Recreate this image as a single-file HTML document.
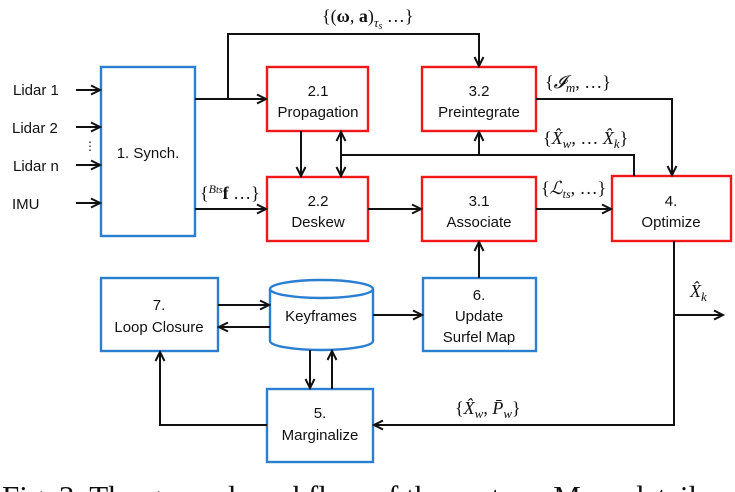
<!DOCTYPE html>
<html><head><meta charset="utf-8"><style>
html,body{margin:0;padding:0;background:#fff;overflow:hidden}
svg{display:block}
.t{font-family:"Liberation Sans",sans-serif;font-size:15px;fill:#111}
.m{font-family:"Liberation Serif",serif;font-size:18px;fill:#111}
.c{font-family:"Liberation Serif",serif;font-size:31px;fill:#111}
</style></head><body>
<svg width="735" height="492" viewBox="0 0 735 492" xmlns="http://www.w3.org/2000/svg">
<defs><marker id="a" markerWidth="12" markerHeight="12" refX="10" refY="6" orient="auto" markerUnits="userSpaceOnUse">
<path d="M1,1.5 L10,6 L1,10.5" fill="none" stroke="#111" stroke-width="2"/></marker></defs>
<g fill="#fff" stroke-width="2.4">
<rect x="101" y="67" width="94" height="169" stroke="#2a7fd0"/>
<rect x="267" y="67" width="101" height="64" stroke="#f01818"/>
<rect x="267" y="177" width="101" height="64" stroke="#f01818"/>
<rect x="422" y="67" width="114" height="64" stroke="#f01818"/>
<rect x="422" y="177" width="114" height="64" stroke="#f01818"/>
<rect x="612" y="176" width="119" height="65" stroke="#f01818"/>
<rect x="101" y="278" width="117" height="73" stroke="#2a7fd0"/>
<rect x="423" y="278" width="113" height="73" stroke="#2a7fd0"/>
<rect x="267" y="389" width="106" height="73" stroke="#2a7fd0"/>
<path d="M270,289 L270,341 A51.5,9 0 0 0 373,341 L373,289" stroke="#2a7fd0"/>
<ellipse cx="321.5" cy="289" rx="51.5" ry="9" stroke="#2a7fd0"/>
</g>
<g stroke="#111" stroke-width="2" fill="none">
<line x1="76" y1="90" x2="100" y2="90" marker-end="url(#a)"/>
<line x1="76" y1="127" x2="100" y2="127" marker-end="url(#a)"/>
<line x1="76" y1="165" x2="100" y2="165" marker-end="url(#a)"/>
<line x1="76" y1="203" x2="100" y2="203" marker-end="url(#a)"/>
<line x1="195" y1="99" x2="266" y2="99" marker-end="url(#a)"/>
<path d="M228,99 V34 H479 V66" marker-end="url(#a)"/>
<line x1="195" y1="209" x2="266" y2="209" marker-end="url(#a)"/>
<line x1="301" y1="131" x2="301" y2="176" marker-end="url(#a)"/>
<line x1="341" y1="155" x2="341" y2="176" marker-end="url(#a)"/>
<line x1="341" y1="155" x2="341" y2="132" marker-end="url(#a)"/>
<path d="M341,155 H634 V176"/>
<line x1="479" y1="155" x2="479" y2="132" marker-end="url(#a)"/>
<path d="M536,99 H672 V175" marker-end="url(#a)"/>
<line x1="368" y1="209" x2="421" y2="209" marker-end="url(#a)"/>
<line x1="536" y1="209" x2="611" y2="209" marker-end="url(#a)"/>
<line x1="479" y1="278" x2="479" y2="242" marker-end="url(#a)"/>
<path d="M674,241 V425 H374" marker-end="url(#a)"/>
<line x1="674" y1="315" x2="723" y2="315" marker-end="url(#a)"/>
<path d="M267,425 H160 V352" marker-end="url(#a)"/>
<line x1="218" y1="305" x2="269" y2="305" marker-end="url(#a)"/>
<line x1="270" y1="327" x2="219" y2="327" marker-end="url(#a)"/>
<line x1="373" y1="315" x2="422" y2="315" marker-end="url(#a)"/>
<line x1="310" y1="350" x2="310" y2="388" marker-end="url(#a)"/>
<line x1="332" y1="389" x2="332" y2="351" marker-end="url(#a)"/>
</g>
<g class="t">
<text x="13" y="95">Lidar 1</text>
<text x="12" y="133">Lidar 2</text>
<text x="13" y="171">Lidar n</text>
<text x="12" y="209">IMU</text>
<text x="84" y="150" font-size="12">⋮</text>
<g text-anchor="middle">
<text x="148" y="158">1. Synch.</text>
<text x="318" y="96">2.1</text><text x="318" y="117">Propagation</text>
<text x="318" y="206">2.2</text><text x="318" y="227">Deskew</text>
<text x="479" y="96">3.2</text><text x="479" y="117">Preintegrate</text>
<text x="479" y="206">3.1</text><text x="479" y="227">Associate</text>
<text x="671" y="206">4.</text><text x="671" y="227">Optimize</text>
<text x="159" y="310">7.</text><text x="159" y="332">Loop Closure</text>
<text x="321" y="321">Keyframes</text>
<text x="479" y="300">6.</text><text x="479" y="321">Update</text><text x="479" y="342">Surfel Map</text>
<text x="320" y="418">5.</text><text x="320" y="440">Marginalize</text>
</g></g>
<g class="m">
<text x="322" y="22">{(<tspan font-weight="bold">ω</tspan>, <tspan font-weight="bold">a</tspan>)<tspan font-style="italic" font-size="13" dy="5">τ</tspan><tspan font-style="italic" font-size="10" dy="2">s</tspan><tspan dy="-7"> …}</tspan></text>
<text x="200" y="199">{<tspan font-style="italic" font-size="12" dy="-6">B</tspan><tspan font-style="italic" font-size="10">ts</tspan><tspan dy="6" font-weight="bold">f</tspan> …}</text>
<text x="545" y="88">{<tspan font-style="italic">𝓘</tspan><tspan font-style="italic" font-size="13" dy="4">m</tspan><tspan dy="-4">, …}</tspan></text>
<text x="543" y="144">{<tspan font-style="italic">X̂</tspan><tspan font-style="italic" font-size="13" dy="4">w</tspan><tspan dy="-4">, … </tspan><tspan font-style="italic">X̂</tspan><tspan font-style="italic" font-size="13" dy="4">k</tspan><tspan dy="-4">}</tspan></text>
<text x="541" y="194">{<tspan font-style="italic">ℒ</tspan><tspan font-style="italic" font-size="12" dy="4">ts</tspan><tspan dy="-4">, …}</tspan></text>
<text x="690" y="297" font-style="italic">X̂<tspan font-size="13" dy="4">k</tspan></text>
<text x="455" y="414">{<tspan font-style="italic">X̂</tspan><tspan font-style="italic" font-size="13" dy="4">w</tspan><tspan dy="-4">, </tspan><tspan font-style="italic">P̄</tspan><tspan font-style="italic" font-size="13" dy="4">w</tspan><tspan dy="-4">}</tspan></text>
</g>
<text class="c" x="2" y="507">Fig. 3. The general workflow of the system. More details</text>
</svg>
</body></html>
